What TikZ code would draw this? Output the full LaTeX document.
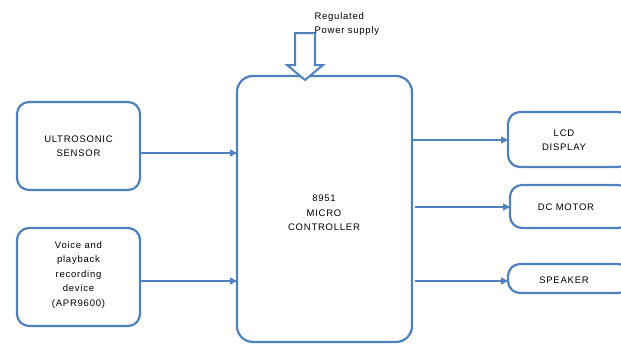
\documentclass[tikz,border=0pt]{standalone}
\usepackage{fontspec}
\setmainfont{Liberation Sans}[LetterSpace=8]
\usetikzlibrary{arrows.meta}
\definecolor{ofblue}{HTML}{4F81BD}
\begin{document}
\begin{tikzpicture}[x=1pt,y=-1pt,
  blk/.style={draw=ofblue, line width=2.2pt, rounded corners=12pt, fill=white},
  lbl/.style={font=\fontsize{9.5}{14.5}\selectfont, align=center, text=black},
  conn/.style={draw=ofblue, line width=1.5pt, -{Triangle[length=7pt,width=7pt]}}]
\useasboundingbox (0,0) rectangle (621,346);
% blocks
\draw[blk] (17,102) rectangle (140,190);
\node[lbl] (us) at (78.5,146) {ULTROSONIC\\SENSOR};
\coordinate (usR) at (140,153);
\draw[blk] (17,228) rectangle (140,326);
\node[lbl] (vr) at (78.5,275) {Voice and\\playback\\recording\\device\\(APR9600)};
\coordinate (vrR) at (140,281);
\draw[blk, rounded corners=16pt] (237,76) rectangle (412,342);
\node[lbl] (mc) at (324,213) {8951\\MICRO\\CONTROLLER};
\coordinate (mcL1) at (237,153);
\coordinate (mcL2) at (237,281);
\coordinate (mcR1) at (412,140);
\coordinate (mcR2) at (415,207);
\coordinate (mcR3) at (415,281);
\draw[blk] (508,112) rectangle (630,167);
\node[lbl] (lcd) at (564,140) {LCD\\DISPLAY};
\coordinate (lcdL) at (508,140);
\draw[blk] (510,185) rectangle (630,228);
\node[lbl] (dc) at (566,207) {DC MOTOR};
\coordinate (dcL) at (510,207);
\draw[blk] (508,264) rectangle (630,293);
\node[lbl] (sp) at (564,280) {SPEAKER};
\coordinate (spL) at (508,281);
% connectors
\draw[conn] (usR) -- (mcL1);
\draw[conn] (vrR) -- (mcL2);
\draw[conn] (mcR1) -- (lcdL);
\draw[conn] (mcR2) -- (dcL);
\draw[conn] (mcR3) -- (spL);
% power arrow
\draw[draw=ofblue, line width=2pt, fill=white, line join=miter]
  (295,33) -- (315,33) -- (315,65) -- (323,65) -- (305,80) -- (287,65) -- (295,65) -- cycle;
\node[lbl, anchor=north west, align=left] (pw) at (311,9) {Regulated\\Power supply};
\end{tikzpicture}
\end{document}
